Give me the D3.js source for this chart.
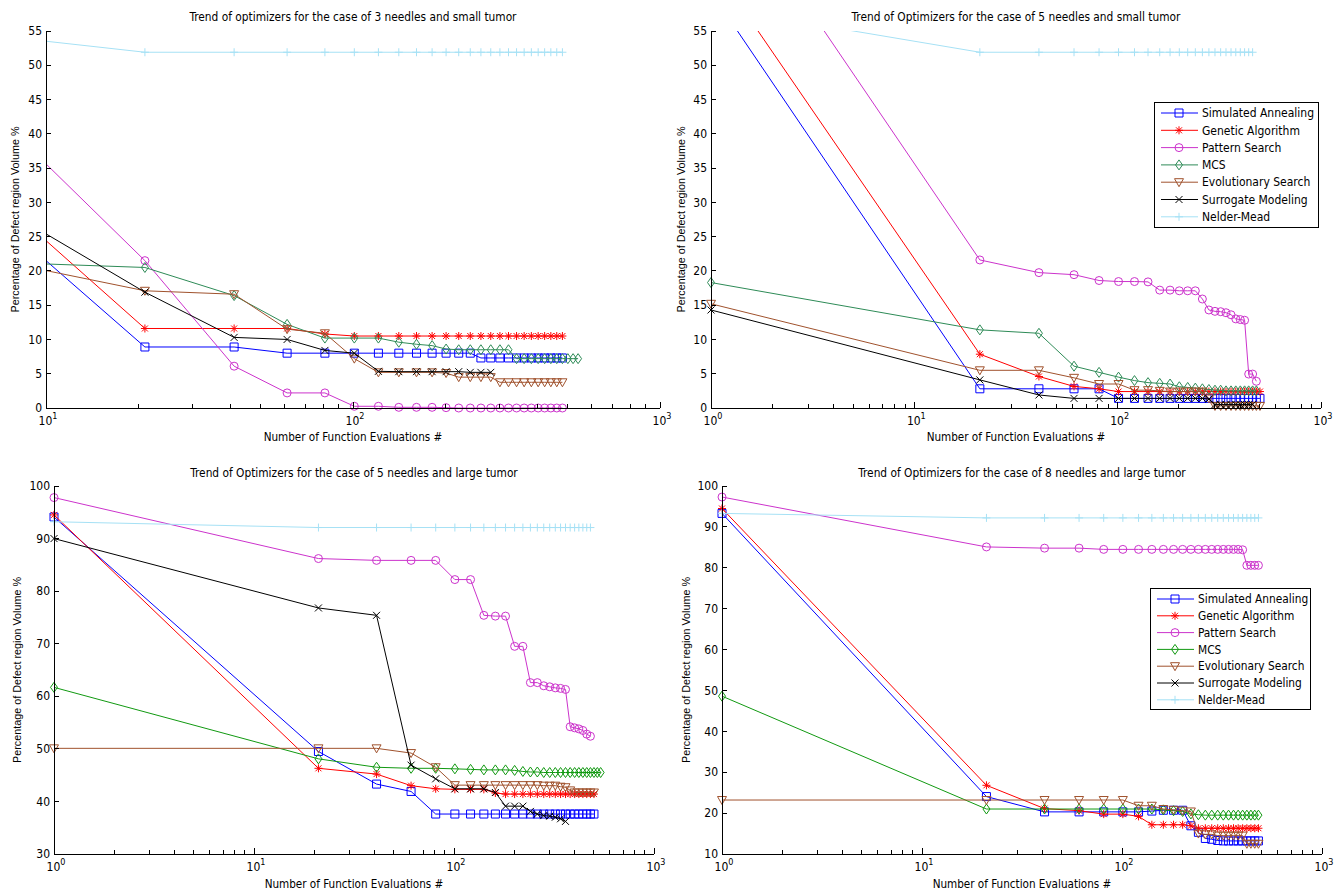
<!DOCTYPE html>
<html>
<head>
<meta charset="utf-8">
<script src="https://cdn.jsdelivr.net/npm/d3@7/dist/d3.min.js"></script>
<style>
  body { margin: 0; background: #fff; }
  text { font-family: "Liberation Sans Narrow", "DejaVu Sans Condensed", Arial, sans-serif; fill: #000; }
  .ylab { font-family: "Liberation Sans", Arial, sans-serif; }
</style>
</head>
<body>
<svg id="chart" width="1342" height="893"></svg>
<script>
// number of function evaluations at each recorded point
var evals = [1, 21, 41, 61, 81, 101, 121, 141, 161, 181, 201, 221, 241, 261, 281,
             301, 321, 341, 361, 381, 401, 421, 441, 461, 481, 501, 521, 541];

var names = ["Simulated Annealing", "Genetic Algorithm", "Pattern Search", "MCS",
             "Evolutionary Search", "Surrogate Modeling", "Nelder-Mead"];

var titles = [
  "Trend of optimizers for the case of 3 needles and small tumor",
  "Trend of Optimizers for the case of 5 needles and small tumor",
  "Trend of Optimizers for the case of 5 needles and large tumor",
  "Trend of Optimizers for the case of 8 needles and large tumor"
];

// --- 3 needles, small tumor
var sa1 = [60.6, 8.9, 8.9, 8.0, 8.0, 8.0, 8.0, 8.0, 8.0, 8.0, 8.0, 8.0, 8.0, 7.3, 7.3, 7.3, 7.3, 7.3, 7.3, 7.3, 7.3, 7.3, 7.3, 7.3, 7.3];
var ga1 = [64.2, 11.6, 11.6, 11.6, 10.8, 10.5, 10.5, 10.5, 10.5, 10.5, 10.5, 10.5, 10.5, 10.5, 10.5, 10.5, 10.5, 10.5, 10.5, 10.5, 10.5, 10.5, 10.5, 10.5, 10.5];
var ps1 = [79.4, 21.5, 6.1, 2.2, 2.2, 0.25, 0.25, 0.1, 0.1, 0.1, 0.05, 0, 0, 0, 0, 0, 0, 0, 0, 0, 0, 0, 0, 0, 0];
var mcs1 = [22.6, 20.5, 16.4, 12.2, 10.2, 10.2, 10.2, 9.6, 9.3, 9.1, 8.6, 8.5, 8.5, 8.5, 8.5, 8.5, 8.5, 7.2, 7.2, 7.2, 7.2, 7.2, 7.2, 7.2, 7.2, 7.2, 7.2, 7.2];
var es1 = [29.2, 17.1, 16.6, 11.5, 10.9, 7.2, 5.2, 5.2, 5.2, 5.2, 5.1, 4.5, 4.5, 4.5, 4.5, 3.75, 3.75, 3.75, 3.75, 3.75, 3.75, 3.75, 3.75, 3.75, 3.75];
var sm1 = [51.8, 16.9, 10.3, 10.0, 8.4, 8.0, 5.35, 5.3, 5.3, 5.3, 5.3, 5.3, 5.2, 5.2, 5.2];
var nm1 = [58.5, 51.9, 51.9, 51.9, 51.9, 51.9, 51.9, 51.9, 51.9, 51.9, 51.9, 51.9, 51.9, 51.9, 51.9, 51.9, 51.9, 51.9, 51.9, 51.9, 51.9, 51.9, 51.9, 51.9, 51.9];

// --- 5 needles, small tumor
var sa2 = [60.7, 2.8, 2.8, 2.8, 2.8, 1.4, 1.4, 1.4, 1.4, 1.4, 1.4, 1.4, 1.4, 1.4, 1.4, 1.4, 1.4, 1.4, 1.4, 1.4, 1.4, 1.4, 1.4, 1.4, 1.4, 1.4];
var ga2 = [65.0, 7.85, 4.6, 3.15, 2.8, 2.4, 2.4, 2.4, 2.4, 2.4, 2.4, 2.4, 2.4, 2.4, 2.4, 2.4, 2.4, 2.4, 2.4, 2.4, 2.4, 2.4, 2.4, 2.4, 2.4, 2.4];
var ps2 = [79.3, 21.6, 19.75, 19.45, 18.6, 18.45, 18.45, 18.4, 17.2, 17.2, 17.1, 17.1, 17.1, 15.9, 14.3, 14.1, 14.05, 13.9, 13.6, 13.0, 12.9, 12.8, 4.95, 4.95, 3.9];
var mcs2 = [18.3, 11.4, 10.9, 6.1, 5.2, 4.5, 4.0, 3.7, 3.6, 3.5, 3.1, 3.0, 2.9, 2.8, 2.7, 2.6, 2.6, 2.5, 2.5, 2.5, 2.5, 2.5, 2.5, 2.5, 2.5];
var es2 = [15.2, 5.5, 5.5, 4.4, 3.5, 3.5, 2.6, 2.6, 2.5, 2.4, 2.4, 2.4, 2.4, 2.4, 1.4, 0.3, 0.3, 0.3, 0.3, 0.3, 0.3, 0.3, 0.3, 0.3, 0.3, 0.3];
var sm2 = [14.3, 4.1, 1.9, 1.4, 1.4, 1.4, 1.4, 1.4, 1.4, 1.4, 1.4, 1.4, 1.4, 1.4, 1.3, 0.5, 0.5, 0.5, 0.5, 0.5, 0.5, 0.5, 0.5, 0.5];
var nm2 = [58.5, 51.9, 51.9, 51.9, 51.9, 51.9, 51.9, 51.9, 51.9, 51.9, 51.9, 51.9, 51.9, 51.9, 51.9, 51.9, 51.9, 51.9, 51.9, 51.9, 51.9, 51.9, 51.9, 51.9];

// --- 5 needles, large tumor
var sa3 = [94.1, 49.5, 43.3, 41.9, 37.6, 37.6, 37.6, 37.6, 37.6, 37.6, 37.6, 37.6, 37.6, 37.6, 37.6, 37.6, 37.6, 37.6, 37.6, 37.6, 37.6, 37.6, 37.6, 37.6, 37.6, 37.6];
var ga3 = [94.5, 46.3, 45.2, 43.0, 42.4, 42.3, 42.3, 42.3, 41.6, 41.4, 41.4, 41.4, 41.4, 41.4, 41.4, 41.4, 41.4, 41.4, 41.4, 41.4, 41.4, 41.4, 41.4, 41.4, 41.4, 41.4];
var ps3 = [97.8, 86.2, 85.85, 85.85, 85.85, 82.2, 82.2, 75.4, 75.25, 75.25, 69.5, 69.5, 62.6, 62.6, 62.0, 61.8, 61.6, 61.5, 61.3, 54.2, 54.0, 53.8, 53.5, 52.8, 52.4];
var mcs3 = [61.7, 48.1, 46.5, 46.3, 46.3, 46.2, 46.1, 46.0, 46.0, 46.0, 45.9, 45.7, 45.6, 45.6, 45.5, 45.5, 45.5, 45.5, 45.5, 45.5, 45.5, 45.5, 45.5, 45.5, 45.5, 45.5, 45.5, 45.5];
var es3 = [50.1, 50.1, 50.1, 49.2, 46.5, 43.1, 43.1, 43.1, 43.1, 43.1, 43.1, 43.1, 43.1, 43.1, 43.0, 43.0, 43.0, 42.8, 42.7, 42.1, 41.7, 41.7, 41.7, 41.7, 41.7, 41.7];
var sm3 = [90.0, 76.8, 75.4, 46.9, 44.3, 42.4, 42.4, 42.4, 41.7, 39.1, 39.1, 39.1, 38.1, 37.6, 37.3, 37.2, 37.0, 36.7, 36.2];
var nm3 = [93.2, 92.1, 92.1, 92.1, 92.1, 92.1, 92.1, 92.1, 92.1, 92.1, 92.1, 92.1, 92.1, 92.1, 92.1, 92.1, 92.1, 92.1, 92.1, 92.1, 92.1, 92.1, 92.1, 92.1, 92.1];

// --- 8 needles, large tumor
var sa4 = [93.3, 24.05, 20.3, 20.3, 20.3, 20.3, 20.3, 20.5, 20.7, 20.7, 20.7, 16.9, 15.3, 13.8, 13.6, 13.3, 13.2, 13.2, 13.2, 13.2, 13.2, 13.2, 13.2, 13.2, 13.2];
var ga4 = [94.5, 26.8, 21.1, 20.6, 19.75, 19.75, 19.2, 17.15, 17.15, 17.15, 17.15, 16.9, 16.3, 16.3, 16.3, 16.3, 16.3, 16.3, 16.3, 16.3, 16.3, 16.3, 16.3, 16.3, 16.3];
var ps4 = [97.3, 85.1, 84.8, 84.8, 84.5, 84.5, 84.5, 84.5, 84.5, 84.5, 84.5, 84.5, 84.5, 84.5, 84.5, 84.5, 84.5, 84.5, 84.5, 84.5, 84.4, 80.6, 80.6, 80.6, 80.6];
var mcs4 = [48.6, 21.0, 21.0, 21.0, 21.0, 21.0, 21.0, 21.0, 20.8, 20.6, 20.4, 19.8, 19.6, 19.5, 19.5, 19.5, 19.5, 19.5, 19.5, 19.5, 19.5, 19.5, 19.5, 19.5, 19.5];
var es4 = [23.2, 23.2, 23.2, 23.2, 23.2, 23.2, 21.8, 21.8, 21.0, 20.8, 20.6, 20.4, 15.0, 14.8, 14.8, 14.5, 14.5, 14.5, 14.5, 14.5, 14.5, 12.5, 12.5, 12.5, 12.5];
var sm4 = [];
var nm4 = [93.3, 92.2, 92.2, 92.2, 92.2, 92.2, 92.2, 92.2, 92.2, 92.2, 92.2, 92.2, 92.2, 92.2, 92.2, 92.2, 92.2, 92.2, 92.2, 92.2, 92.2, 92.2, 92.2, 92.2, 92.2];

var yTicks1 = [0, 5, 10, 15, 20, 25, 30, 35, 40, 45, 50, 55];
var yTicks3 = [30, 40, 50, 60, 70, 80, 90, 100];
var yTicks4 = [10, 20, 30, 40, 50, 60, 70, 80, 90, 100];

var markers = ["s", "*", "o", "d", "v", "x", "+"];
var colorsA = ["#0000ff", "#ff0000", "#cc33cc", "#2e8b57", "#a0522d", "#000000", "#a6e1f5"];
var colorsB = ["#0000ff", "#ff0000", "#cc33cc", "#119911", "#a0522d", "#000000", "#a6e1f5"];

var panels = [
  {l: 46, r: 660, t: 31, b: 408, xd: [10, 1000], yd: [0, 55], yt: yTicks1, title: titles[0], ty: 17, xly: 437, ylx: 15,
   series: [sa1, ga1, ps1, mcs1, es1, sm1, nm1], colors: colorsA, legend: null},
  {l: 711, r: 1321, t: 31, b: 408, xd: [1, 1000], yd: [0, 55], yt: yTicks1, title: titles[1], ty: 17, xly: 437, ylx: 681,
   series: [sa2, ga2, ps2, mcs2, es2, sm2, nm2], colors: colorsA,
   legend: {x: 1154, y: 102, w: 164, h: 125, y0: 113, dy: 17.3, fs: 12}},
  {l: 54, r: 654, t: 486, b: 854, xd: [1, 1000], yd: [30, 100], yt: yTicks3, title: titles[2], ty: 473, xly: 884, ylx: 17,
   series: [sa3, ga3, ps3, mcs3, es3, sm3, nm3], colors: colorsB, legend: null},
  {l: 722, r: 1322, t: 486, b: 854, xd: [1, 1000], yd: [10, 100], yt: yTicks4, title: titles[3], ty: 473, xly: 884, ylx: 686,
   series: [sa4, ga4, ps4, mcs4, es4, sm4, nm4], colors: colorsB,
   legend: {x: 1150, y: 588, w: 160, h: 121, y0: 599, dy: 16.8, fs: 11.8}}
];

function markerPath(m) {
  if (m === "s") return "M-4,-4h8v8h-8z";
  if (m === "o") return "M-4,0a4,4 0 1,0 8,0a4,4 0 1,0 -8,0";
  if (m === "d") return "M0,-5L3.5,0L0,5L-3.5,0Z";
  if (m === "v") return "M-4.5,-3.5L4.5,-3.5L0,4.5Z";
  if (m === "x") return "M-3.5,-3.5L3.5,3.5M-3.5,3.5L3.5,-3.5";
  if (m === "+") return "M-4,0H4M0,-4V4";
  return "M-4,0H4M0,-4V4M-3,-3L3,3M-3,3L3,-3";
}

var svg = d3.select("#chart");
svg.append("rect").attr("width", 1342).attr("height", 893).attr("fill", "#fff");

panels.forEach(function (p, pi) {
  var x = d3.scaleLog().domain(p.xd).range([p.l, p.r]);
  var y = d3.scaleLinear().domain(p.yd).range([p.b, p.t]);
  var g = svg.append("g");

  g.append("clipPath").attr("id", "clip" + pi)
    .append("rect").attr("x", p.l).attr("y", p.t).attr("width", p.r - p.l).attr("height", p.b - p.t);

  var line = d3.line().x(function (d) { return x(d[0]); }).y(function (d) { return y(d[1]); });

  p.series.forEach(function (vals, si) {
    var pts = vals.map(function (v, i) { return [evals[i], v]; });
    if (!pts.length) return;
    g.append("path").attr("d", line(pts))
      .attr("fill", "none").attr("stroke", p.colors[si]).attr("stroke-width", 1)
      .attr("clip-path", "url(#clip" + pi + ")");
    g.selectAll(null)
      .data(pts.filter(function (d) { return d[0] >= p.xd[0] && d[1] <= p.yd[1] && d[1] >= p.yd[0]; }))
      .enter().append("path")
      .attr("d", markerPath(markers[si]))
      .attr("transform", function (d) { return "translate(" + x(d[0]) + "," + y(d[1]) + ")"; })
      .attr("fill", "none").attr("stroke", p.colors[si]).attr("stroke-width", 1);
  });

  // axes (MATLAB style, ticks pointing inward, no box)
  var ax = g.append("g").attr("stroke", "#000").attr("stroke-width", 1).attr("shape-rendering", "crispEdges");
  ax.append("line").attr("x1", p.l).attr("x2", p.l).attr("y1", p.t).attr("y2", p.b);
  ax.append("line").attr("x1", p.l).attr("x2", p.r).attr("y1", p.b).attr("y2", p.b);

  p.yt.forEach(function (t) {
    ax.append("line").attr("x1", p.l).attr("x2", p.l + 5).attr("y1", y(t)).attr("y2", y(t));
    g.append("text").attr("x", p.l - 4).attr("y", y(t)).attr("dy", "0.35em")
      .attr("text-anchor", "end").attr("font-size", 12).text(t);
  });

  var lo = Math.round(Math.log10(p.xd[0])), hi = Math.round(Math.log10(p.xd[1]));
  for (var e = lo; e <= hi; e++) {
    var dec = Math.pow(10, e);
    ax.append("line").attr("x1", x(dec)).attr("x2", x(dec)).attr("y1", p.b).attr("y2", p.b - 6);
    var lab = g.append("text").attr("x", x(dec) + 2).attr("y", p.b + 17)
      .attr("text-anchor", "middle").attr("font-size", 12);
    lab.append("tspan").text("10");
    lab.append("tspan").attr("dy", -6).attr("font-size", 9).text(e);
    if (e < hi) {
      for (var m = 2; m <= 9; m++) {
        ax.append("line").attr("x1", x(m * dec)).attr("x2", x(m * dec)).attr("y1", p.b).attr("y2", p.b - 4);
      }
    }
  }

  g.append("text").attr("x", (p.l + p.r) / 2).attr("y", p.ty).attr("dy", "0.35em")
    .attr("text-anchor", "middle").attr("font-size", 11.8).text(p.title);
  g.append("text").attr("x", (p.l + p.r) / 2).attr("y", p.xly).attr("dy", "0.35em")
    .attr("text-anchor", "middle").attr("font-size", 11.6).text("Number of Function Evaluations #");
  g.append("text").attr("class", "ylab")
    .attr("transform", "translate(" + p.ylx + "," + (p.t + p.b) / 2 + ") rotate(-90)")
    .attr("dy", "0.35em").attr("text-anchor", "middle").attr("font-size", 10.8)
    .text("Percentage of Defect region Volume %");

  if (p.legend) {
    var L = p.legend;
    var lg = g.append("g");
    lg.append("rect").attr("x", L.x).attr("y", L.y).attr("width", L.w).attr("height", L.h)
      .attr("fill", "#fff").attr("stroke", "#000").attr("stroke-width", 1).attr("shape-rendering", "crispEdges");
    names.forEach(function (n, i) {
      var ly = L.y0 + i * L.dy;
      lg.append("line").attr("x1", L.x + 7).attr("x2", L.x + 44).attr("y1", ly).attr("y2", ly)
        .attr("stroke", p.colors[i]).attr("stroke-width", 1);
      lg.append("path").attr("d", markerPath(markers[i]))
        .attr("transform", "translate(" + (L.x + 25) + "," + ly + ")")
        .attr("fill", "none").attr("stroke", p.colors[i]).attr("stroke-width", 1);
      lg.append("text").attr("x", L.x + 48).attr("y", ly).attr("dy", "0.35em")
        .attr("font-size", L.fs).text(n);
    });
  }
});
</script>
</body>
</html>
